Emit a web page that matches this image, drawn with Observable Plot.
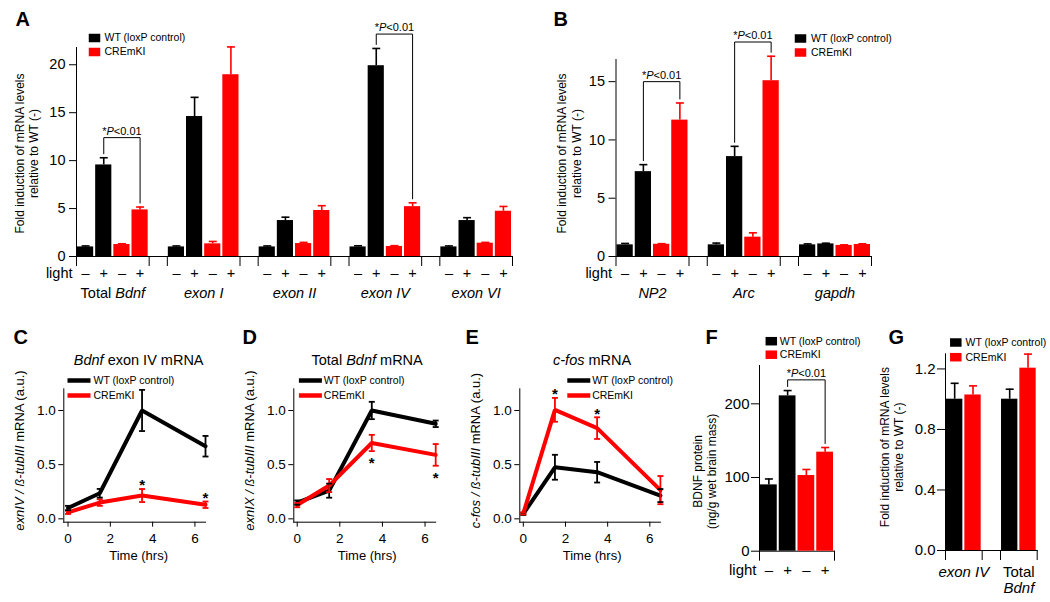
<!DOCTYPE html>
<html><head><meta charset="utf-8">
<script src="https://cdn.jsdelivr.net/npm/d3@7"></script>
<script src="https://cdn.jsdelivr.net/npm/@observablehq/plot@0.6"></script>
<style>
body{margin:0;background:#fff;}
#fig{position:relative;width:1050px;height:602px;overflow:hidden;}
#fig svg{position:absolute;}
</style></head><body><div id="fig"></div>
<script>
// ---------- data ----------
const genotypes = ["WT (loxP control)", "CREmKI"];
const genotypeColors = ["#000000", "#ff0000"];
const lightSigns = ["–", "+", "–", "+"];
const sigLabel = "*_P_<0.01";

// Panel A (fold induction, bars: WT-, WT+, CREmKI-, CREmKI+)
const groupsA = ["Total _Bdnf_", "_exon I_", "_exon II_", "_exon IV_", "_exon VI_"];
const meansA = [[1.0, 9.55, 1.25, 4.86], [1.0, 14.6, 1.32, 18.96], [1.0, 3.75, 1.35, 4.8], [1.0, 19.9, 1.05, 5.2], [1.0, 3.75, 1.39, 4.72]];
const errsA = [[0.1, 0.75, 0.08, 0.3], [0.1, 2.0, 0.25, 2.9], [0.1, 0.35, 0.12, 0.5], [0.12, 1.8, 0.08, 0.4], [0.1, 0.3, 0.08, 0.5]];
const sigGroupsA = [0, 3];
const sigLevelsA = [12.4, 23.2];
const yTicksA = [0, 5, 10, 15, 20];

// Panel B
const groupsB = ["_NP2_", "_Arc_", "_gapdh_"];
const meansB = [[1.0, 7.28, 1.05, 11.7], [1.0, 8.57, 1.66, 15.08], [1.0, 1.08, 0.95, 1.03]];
const errsB = [[0.12, 0.6, 0.05, 1.47], [0.15, 0.88, 0.37, 2.1], [0.08, 0.06, 0.05, 0.06]];
const sigGroupsB = [0, 1];
const sigLevelsB = [15.0, 18.4];
const yTicksB = [0, 5, 10, 15];

// Panels C, D, E (time courses)
const timesHrs = [0, 1.5, 3.5, 6.5];
const xTicksTime = [0, 2, 4, 6];
const yTicksTime = [0, 0.5, 1.0];
const wtC = [0.10, 0.236, 1.0, 0.67];   const wtErrC = [0.02, 0.04, 0.19, 0.095];
const creC = [0.06, 0.15, 0.215, 0.13]; const creErrC = [0.015, 0.03, 0.06, 0.03];
const starTimesC = [3.5, 6.5];
const wtD = [0.15, 0.26, 1.0, 0.877];   const wtErrD = [0.02, 0.065, 0.08, 0.03];
const creD = [0.127, 0.307, 0.70, 0.59]; const creErrD = [0.02, 0.06, 0.075, 0.1];
const starTimesD = [3.5, 6.5];
const wtE = [0.046, 0.476, 0.43, 0.215]; const wtErrE = [0.01, 0.115, 0.095, 0.06];
const creE = [0.05, 1.006, 0.837, 0.265]; const creErrE = [0.01, 0.11, 0.1, 0.13];
const starTimesE = [1.5, 3.5];

// Panel F (BDNF protein)
const groupsF = [""];
const meansF = [[90, 210.8, 102.7, 134.4]];
const errsF = [[8, 7.2, 8.2, 6.3]];
const sigGroupsF = [0];
const sigLevelsF = [232.5];
const yTicksF = [0, 100, 200];

// Panel G
const groupsG = ["_exon IV_", "Total\n_Bdnf_"];
const meansG = [[1.0, 1.028], [1.0, 1.205]];
const errsG = [[0.105, 0.06], [0.066, 0.093]];
const yTicksG = [0, 0.4, 0.8, 1.2];

// ---------- helpers ----------
const FONT = '"Liberation Sans", Arial, Helvetica, sans-serif';
const fig = document.getElementById("fig");
function place(svg, left, top) {
  italicize(svg);
  svg.style.left = left + "px";
  svg.style.top = top + "px";
  fig.appendChild(svg);
}
function italicize(root) {
  const nodes = Array.from(root.querySelectorAll("text, tspan"))
    .filter(n => n.children.length === 0 && n.textContent.includes("_"));
  for (const n of nodes) {
    const parts = n.textContent.split("_");
    n.textContent = "";
    parts.forEach((p, k) => {
      if (!p) return;
      const t = document.createElementNS("http://www.w3.org/2000/svg", "tspan");
      if (k % 2 === 1) t.setAttribute("font-style", "italic");
      t.textContent = p;
      n.appendChild(t);
    });
  }
}
const capSymbol = w => ({draw(ctx) { ctx.moveTo(-w / 2, 0); ctx.lineTo(w / 2, 0); }});
const rectSymbol = (w, h) => ({draw(ctx) { ctx.rect(-w / 2, -h / 2, w, h); }});
const colorScale = {domain: genotypes, range: genotypeColors};

function legendMarks(kind, {dx, dy, step, textDx}) {
  return genotypes.flatMap((g, k) => [
    Plot.dot([g], {frameAnchor: "top-left", dx, dy: dy + k * step, r: 5,
      symbol: kind === "line" ? rectSymbol(23, 4.5) : rectSymbol(11.5, 8.5),
      fill: genotypeColors[k], stroke: "none"}),
    Plot.text([g], {frameAnchor: "top-left", text: d => d, dx: textDx, dy: dy + k * step,
      textAnchor: "start", lineAnchor: "middle", fontSize: 10.5})
  ]);
}
function letter(ch, dx, dy) {
  return Plot.text([ch], {frameAnchor: "top-left", text: d => d, dx, dy, textAnchor: "start",
    lineAnchor: "bottom", fontSize: 20, fontWeight: "bold"});
}
function yTitle(str, dx, dy, fontSize) {
  return Plot.text([str], {frameAnchor: "left", text: d => d, rotate: -90, dx, dy,
    textAnchor: "middle", lineAnchor: "middle", fontSize, lineHeight: 1.2});
}

function barPanel(o) {
  const n = o.perGroup, slot = n + 1;
  const rows = [];
  o.groups.forEach((g, gi) => o.means[gi].forEach((v, i) => rows.push({
    gi, i, x1: gi * slot + i, x2: gi * slot + i + 1, xc: gi * slot + i + 0.5,
    value: v, err: o.errs[gi][i], genotype: o.genotypeOf(i), sign: o.signs ? o.signs[i] : ""
  })));
  const xMax = o.groups.length * slot - 1;
  const bounds = o.groups.flatMap((g, gi) => [gi * slot, gi * slot + n]);
  const groupRows = o.groups.map((g, gi) => ({label: g, xc: gi * slot + n / 2}));
  const pxPerUnit = (o.height - o.marginTop - o.marginBottom) / (o.yDomain[1] - o.yDomain[0]);
  const gap = 4 / pxPerUnit;
  const marks = [
    Plot.rectY(rows, {x1: "x1", x2: "x2", y: "value", fill: "genotype", insetLeft: 1, insetRight: 1}),
    Plot.ruleX(rows, {x: "xc", y1: "value", y2: d => d.value + d.err, stroke: "genotype", strokeWidth: 1.6}),
    Plot.dot(rows, {x: "xc", y: d => d.value + d.err, r: 3, symbol: capSymbol(8), stroke: "genotype", strokeWidth: 1.6, fill: "none"})
  ];
  (o.sigGroups || []).forEach((gIdx, k) => {
    const L = rows.find(r => r.gi === gIdx && r.i === 1);
    const R = rows.find(r => r.gi === gIdx && r.i === 3);
    const level = o.sigLevels[k];
    const pts = [
      {x: L.xc, y: L.value + L.err + gap}, {x: L.xc, y: level},
      {x: R.xc, y: level}, {x: R.xc, y: R.value + R.err + gap}
    ];
    marks.push(Plot.line(pts, {x: "x", y: "y", stroke: "black", strokeWidth: 1}));
    marks.push(Plot.text([{x: (L.xc + R.xc) / 2, y: level, t: sigLabel}],
      {x: "x", y: "y", text: "t", lineAnchor: "bottom", dy: -3, fontSize: 11}));
  });
  if (o.signs) {
    marks.push(Plot.text(rows, {x: "xc", text: "sign", frameAnchor: "bottom", lineAnchor: "middle", dy: o.signDy, fontSize: o.fontSize}));
    marks.push(Plot.text(["light"], {frameAnchor: "bottom-left", text: d => d, textAnchor: "end",
      lineAnchor: "middle", dx: o.lightDx, dy: o.signDy, fontSize: o.fontSize}));
  }
  if (o.groupDy !== undefined) {
    marks.push(Plot.text(groupRows, {x: "xc", text: "label", frameAnchor: "bottom", lineAnchor: o.groupAnchor || "middle",
      dy: o.groupDy, fontSize: o.fontSize, lineHeight: 1.02}));
  }
  marks.push(...legendMarks("square", o.legend));
  marks.push(letter(o.letter, o.letterDx, o.letterDy));
  marks.push(yTitle(o.yTitle, o.yTitleDx, o.yTitleDy, 12));
  return Plot.plot({
    width: o.width, height: o.height,
    marginLeft: o.marginLeft, marginRight: o.marginRight, marginTop: o.marginTop, marginBottom: o.marginBottom,
    style: {fontFamily: FONT, fontSize: o.fontSize + "px", background: "transparent", overflow: "visible", color: "black"},
    x: {domain: [0, xMax], ticks: bounds, tickFormat: () => "", tickSize: 10, line: true, label: null},
    y: {domain: o.yDomain, ticks: o.yTicks, tickFormat: o.yFormat || d3.format("d"), tickSize: o.tickSize, tickPadding: o.tickPadding, line: true, label: null},
    color: colorScale,
    marks
  });
}

function linePanel(o) {
  const rows = [];
  o.series.forEach((s, k) => timesHrs.forEach((t, j) => rows.push({time: t, value: s.values[j], err: s.errs[j], genotype: genotypes[k]})));
  const starRows = o.starTimes.map(t => rows.find(r => r.time === t && r.genotype === genotypes[1]));
  const starMark = o.starsBelow
    ? Plot.text(starRows, {x: "time", y: d => d.value - d.err, text: () => "*", lineAnchor: "middle", dy: 12, fontSize: 15, fontWeight: "bold"})
    : Plot.text(starRows, {x: "time", y: d => d.value + d.err, text: () => "*", lineAnchor: "middle", dy: -3.5, fontSize: 15, fontWeight: "bold"});
  return Plot.plot({
    width: 230, height: 302,
    marginLeft: o.marginLeft, marginRight: o.marginRight, marginTop: 88.3, marginBottom: 80.3,
    style: {fontFamily: FONT, fontSize: "13.5px", background: "transparent", overflow: "visible", color: "black"},
    x: {domain: o.xDomain, ticks: xTicksTime, tickFormat: d3.format("d"), tickSize: 5, tickPadding: 6, line: true, label: null},
    y: {domain: [-0.031, 1.2], ticks: yTicksTime, tickFormat: d3.format(".1f"), tickSize: 5, tickPadding: 3, line: true, label: null},
    color: colorScale,
    marks: [
      Plot.line(rows, {x: "time", y: "value", z: "genotype", stroke: "genotype", strokeWidth: 4, strokeLinejoin: "miter"}),
      Plot.ruleX(rows, {x: "time", y1: d => d.value - d.err, y2: d => d.value + d.err, stroke: "genotype", strokeWidth: 1.8}),
      Plot.dot(rows, {x: "time", y: d => d.value + d.err, r: 3, symbol: capSymbol(6), stroke: "genotype", strokeWidth: 1.8, fill: "none"}),
      Plot.dot(rows, {x: "time", y: d => d.value - d.err, r: 3, symbol: capSymbol(6), stroke: "genotype", strokeWidth: 1.8, fill: "none"}),
      starMark,
      Plot.text([o.title], {frameAnchor: "top", text: d => d, dx: o.titleDx, dy: -28.3, lineAnchor: "middle", fontSize: 14.5}),
      Plot.text(["Time (hrs)"], {frameAnchor: "bottom", text: d => d, dx: o.titleDx, dy: 33.3, lineAnchor: "middle", fontSize: 13}),
      ...legendMarks("line", o.legend),
      letter(o.letter, o.letterDx, -45.3),
      yTitle(o.yTitle, o.yTitleDx, -5, 13)
    ]
  });
}

// ---------- panels ----------
const genotypeOf4 = i => genotypes[i < 2 ? 0 : 1];

place(barPanel({
  width: 525, height: 300, marginLeft: 76, marginRight: 13, marginTop: 47, marginBottom: 44,
  groups: groupsA, means: meansA, errs: errsA, perGroup: 4, genotypeOf: genotypeOf4, signs: lightSigns,
  yDomain: [0, 21.8], yTicks: yTicksA, tickSize: 7, tickPadding: 4, fontSize: 14.5,
  sigGroups: sigGroupsA, sigLevels: sigLevelsA,
  signDy: 17, lightDx: -4, groupDy: 37,
  legend: {dx: 18, dy: -9.5, step: 14, textDx: 28},
  letter: "A", letterDx: -61, letterDy: -22,
  yTitle: "Fold induction of mRNA levels\nrelative to WT (-)", yTitleDx: -50, yTitleDy: 1.5
}), 0, 0);

place(barPanel({
  width: 525, height: 300, marginLeft: 90.5, marginRight: 179, marginTop: 59, marginBottom: 44,
  groups: groupsB, means: meansB, errs: errsB, perGroup: 4, genotypeOf: genotypeOf4, signs: lightSigns,
  yDomain: [0, 16.9], yTicks: yTicksB, tickSize: 7, tickPadding: 4, fontSize: 14.5,
  sigGroups: sigGroupsB, sigLevels: sigLevelsB,
  signDy: 17, lightDx: -4, groupDy: 37,
  legend: {dx: 184.5, dy: -21, step: 14, textDx: 195},
  letter: "B", letterDx: -62.5, letterDy: -34,
  yTitle: "Fold induction of mRNA levels\nrelative to WT (-)", yTitleDx: -47, yTitleDy: -4.5
}), 525, 0);

place(linePanel({
  marginLeft: 63.3, marginRight: 25, xDomain: [-0.2, 6.5],
  series: [{values: wtC, errs: wtErrC}, {values: creC, errs: creErrC}], starTimes: starTimesC, starsBelow: false,
  title: "_Bdnf_ exon IV mRNA", titleDx: 4,
  legend: {dx: 15.2, dy: -8.3, step: 15, textDx: 29.7},
  letter: "C", letterDx: -50.3,
  yTitle: "_exnIV / ß-tubIII_ mRNA (a.u.)", yTitleDx: -45.3
}), 0, 300);

place(linePanel({
  marginLeft: 63.3, marginRight: 24.8, xDomain: [-0.16, 6.5],
  series: [{values: wtD, errs: wtErrD}, {values: creD, errs: creErrD}], starTimes: starTimesD, starsBelow: true,
  title: "Total _Bdnf_ mRNA", titleDx: 2.4,
  legend: {dx: 16.6, dy: -8.3, step: 15, textDx: 30},
  letter: "D", letterDx: -51.3,
  yTitle: "_exnIX / ß-tubIII_ mRNA (a.u.)", yTitleDx: -45
}), 230, 300);

place(linePanel({
  marginLeft: 59.3, marginRight: 30.1, xDomain: [-0.166, 6.5],
  series: [{values: wtE, errs: wtErrE}, {values: creE, errs: creErrE}], starTimes: starTimesE, starsBelow: false,
  title: "_c-fos_ mRNA", titleDx: 2,
  legend: {dx: 59, dy: -8.3, step: 15, textDx: 72.4},
  letter: "E", letterDx: -54.3,
  yTitle: "_c-fos / ß-tubIII_ mRNA (a.u.)", yTitleDx: -45
}), 460, 300);

place(barPanel({
  width: 175, height: 302, marginLeft: 69, marginRight: 31, marginTop: 65, marginBottom: 51.3,
  groups: groupsF, means: meansF, errs: errsF, perGroup: 4, genotypeOf: genotypeOf4, signs: lightSigns,
  yDomain: [0, 252], yTicks: yTicksF, tickSize: 8, tickPadding: 2, fontSize: 15,
  sigGroups: sigGroupsF, sigLevels: sigLevelsF,
  signDy: 18.6, lightDx: -3,
  legend: {dx: 11.8, dy: -24.3, step: 13.5, textDx: 20.3},
  letter: "F", letterDx: -54, letterDy: -22,
  yTitle: "BDNF protein\n(ng/g wet brain mass)", yTitleDx: -55, yTitleDy: 13
}), 690, 300);

place(barPanel({
  width: 185, height: 302, marginLeft: 80, marginRight: 13.3, marginTop: 53.3, marginBottom: 52,
  groups: groupsG, means: meansG, errs: errsG, perGroup: 2, genotypeOf: i => genotypes[i],
  yDomain: [0, 1.30], yTicks: yTicksG, yFormat: d3.format(".1f"), tickSize: 8, tickPadding: 2, fontSize: 15,
  groupDy: 16, groupAnchor: "top",
  legend: {dx: 10.3, dy: -11.3, step: 14.7, textDx: 20},
  letter: "G", letterDx: -57, letterDy: -10.3,
  yTitle: "Fold induction of mRNA levels\nrelative to WT (-)", yTitleDx: -54, yTitleDy: -5
}), 865, 300);
</script>
</body></html>
